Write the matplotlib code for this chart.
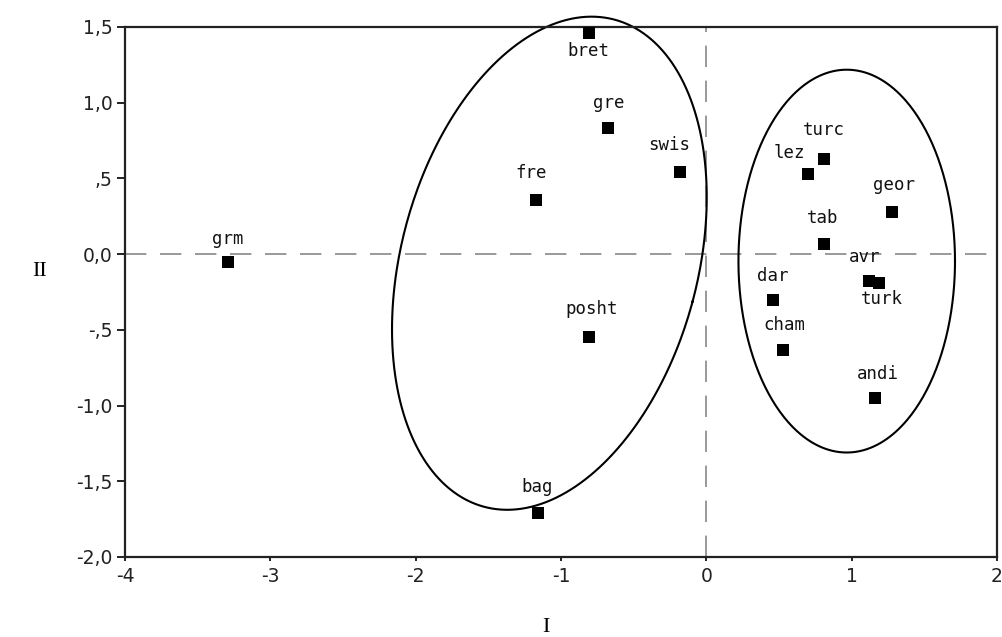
import numpy as np
import matplotlib
matplotlib.use("Agg")
import matplotlib.pyplot as plt

# ---- data ----
names = ["grm", "bret", "gre", "swis", "fre", "posht", "bag",
         "turc", "lez", "geor", "tab", "avr", "turk", "dar", "cham", "andi"]
dim1 = [-3.29, -0.81, -0.68, -0.18, -1.17, -0.81, -1.16,
        0.81, 0.70, 1.28, 0.81, 1.12, 1.19, 0.46, 0.53, 1.16]
dim2 = [-0.05, 1.46, 0.83, 0.54, 0.36, -0.55, -1.71,
        0.63, 0.53, 0.28, 0.07, -0.18, -0.19, -0.30, -0.63, -0.95]

xticks = [-4, -3, -2, -1, 0, 1, 2]
xticklabels = ["-4", "-3", "-2", "-1", "0", "1", "2"]
yticks = [1.5, 1.0, 0.5, 0.0, -0.5, -1.0, -1.5, -2.0]
yticklabels = ["1,5", "1,0", ",5", "0,0", "-,5", "-1,0", "-1,5", "-2,0"]

# cluster ellipses: centre (data), semi-axes (in x-axis units), tilt from vertical (deg)
ell_cx = [-1.08, 0.966]
ell_cy = [-0.06, -0.046]
ell_a = [1.735, 1.317]   # semi-major (vertical-ish)
ell_b = [1.02, 0.745]    # semi-minor
ell_tilt = [15.0, 0.0]

# label offsets in pixels (layout)
label_off = {
    "grm": (0, 23), "bret": (0, -18), "gre": (1, 25), "swis": (-11, 27),
    "fre": (-5, 27), "posht": (3, 28), "bag": (-1, 26), "turc": (0, 29),
    "lez": (-19, 21), "geor": (2, 27), "tab": (-1, 26), "avr": (-4, 24),
    "turk": (3, -16), "dar": (0, 24), "cham": (1, 25), "andi": (3, 24),
}

W, H = 1002, 637
fig = plt.figure(figsize=(W / 100, H / 100), dpi=100)
left, right, top, bottom = 125, 997, 27, 557
ax = fig.add_axes([left / W, 1 - bottom / H, (right - left) / W, (bottom - top) / H])
ax.set_xlim(-4, 2)
ax.set_ylim(-2.0, 1.5)

# reference lines
ax.axhline(0, color="#999999", lw=1.4, dashes=(11, 7), zorder=1)
ax.axvline(0, color="#999999", lw=1.4, dashes=(11, 7), zorder=1)

# points
ax.scatter(dim1, dim2, marker="s", s=80, color="black", zorder=3, linewidths=0)
for n, x, y in zip(names, dim1, dim2):
    dx, dy = label_off[n]
    ax.annotate(n, (x, y), xytext=(dx, dy), textcoords="offset pixels",
                ha="center", va="center", fontsize=12.5, family="DejaVu Sans Mono",
                color="#111111", zorder=4)

# ellipses (shape defined in x-axis units; y scaled by axes pixel aspect)
px_x = (right - left) / 6.0
px_y = (bottom - top) / 3.5
ratio = px_x / px_y
t = np.linspace(0, 2 * np.pi, 400)
for cx, cy, a, b, tilt in zip(ell_cx, ell_cy, ell_a, ell_b, ell_tilt):
    ph = np.deg2rad(tilt)
    u = b * np.cos(t)
    v = a * np.sin(t)
    xr = u * np.cos(ph) + v * np.sin(ph)
    yr = -u * np.sin(ph) + v * np.cos(ph)
    ax.plot(cx + xr, cy + yr * ratio, color="black", lw=1.5, zorder=2,
            clip_on=False)

# axes styling
for s in ax.spines.values():
    s.set_color("#222222")
    s.set_linewidth(1.6)
ax.set_xticks(xticks)
ax.set_xticklabels(xticklabels)
ax.set_yticks(yticks)
ax.set_yticklabels(yticklabels)
ax.tick_params(axis="y", direction="out", length=6, width=1.4, color="#222222",
               labelsize=13.5, pad=3)
ax.tick_params(axis="x", direction="out", length=3, width=1.4, color="#222222",
               labelsize=13.5, pad=4)
for lab in ax.get_xticklabels() + ax.get_yticklabels():
    lab.set_family("DejaVu Sans")
    lab.set_color("#222222")

fig.text(40 / W, 1 - 272 / H, "II", family="Liberation Serif", fontsize=16,
         ha="center", va="center")
fig.text(546 / W, 1 - 627 / H, "I", family="Liberation Serif", fontsize=16,
         ha="center", va="center")

fig.savefig("out.png", dpi=100)
